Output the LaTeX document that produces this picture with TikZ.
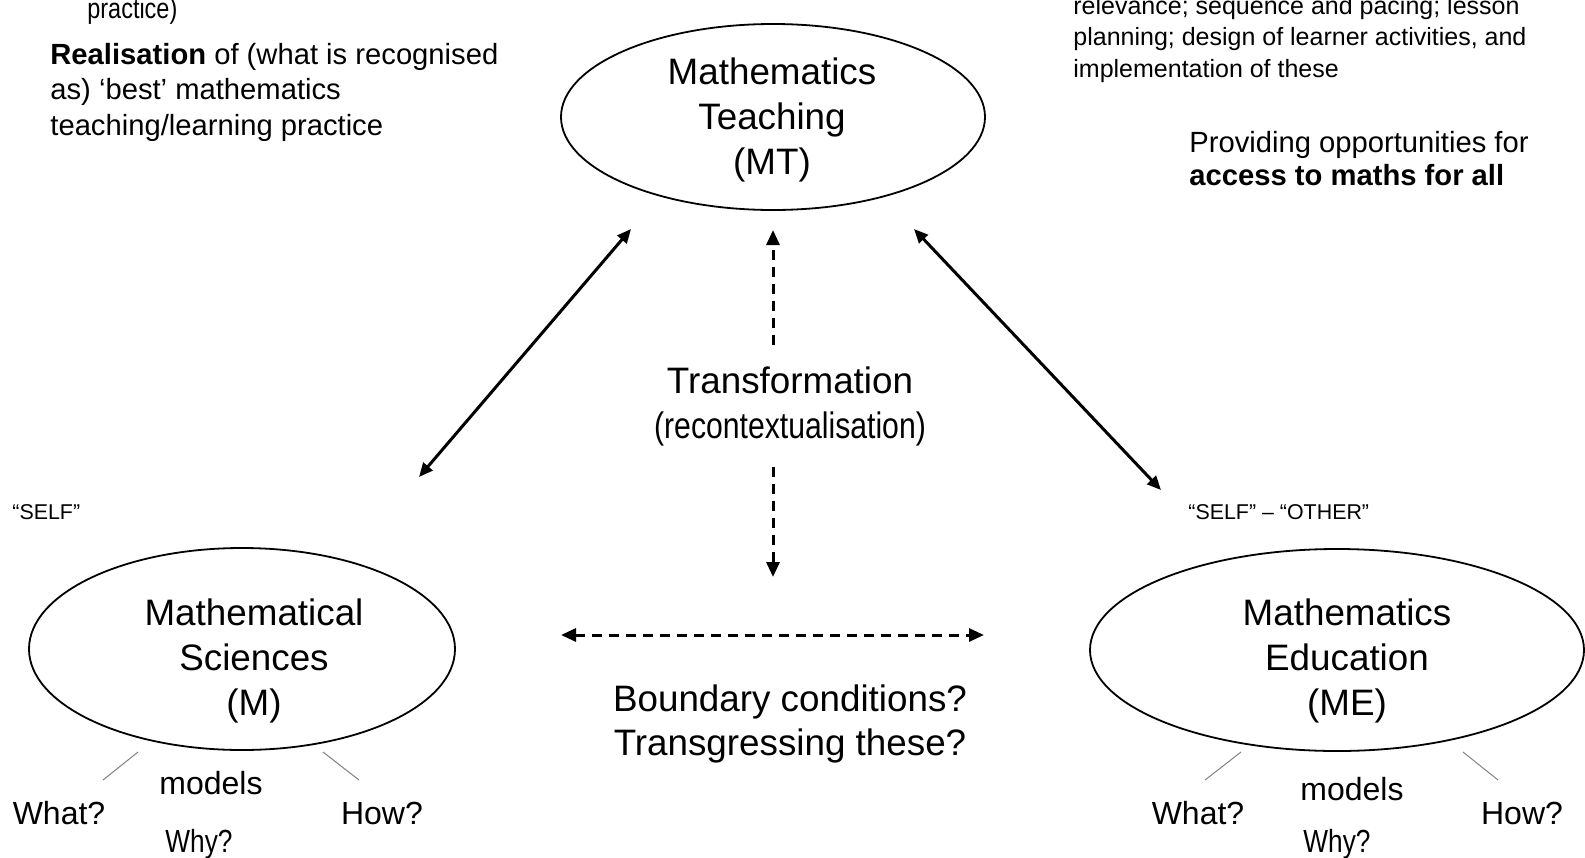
\documentclass[tikz,border=0pt]{standalone}
\usepackage{fontspec}
\setmainfont{Liberation Sans}
\newfontfamily\narrowfont[FakeStretch=0.82]{Liberation Sans}
\usetikzlibrary{arrows.meta,positioning,shapes.geometric}

\begin{document}
\begin{tikzpicture}[x=0.5pt,y=-0.5pt,
  ellip/.style={draw,ellipse,line width=0.9pt,inner sep=0pt},
  bigtxt/.style={align=center,inner sep=0pt,font=\fontsize{18.4}{22.7}\selectfont},
  smalltxt/.style={inner sep=0pt,font=\fontsize{16}{19}\selectfont},
  notetxt/.style={inner sep=0pt,align=left,anchor=base west},
  twoway/.style={line width=1.5pt,{Triangle[length=7pt,width=6pt]}-{Triangle[length=7pt,width=6pt]}},
  dashway/.style={line width=1.5pt,dash pattern=on 5pt off 3.5pt,-{Triangle[length=7.5pt,width=6.5pt]}},
  tick/.style={gray,line width=0.5pt}]
\useasboundingbox (0,0) rectangle (1585,857);
\clip (0,0) rectangle (1585,857);

% the three fields
\node[ellip,minimum width=212pt,minimum height=93pt] (mt) at (773,117) {};
\node[bigtxt] (mtlab) at (772,120) {Mathematics\\Teaching\\(MT)};
\node[ellip,minimum width=213pt,minimum height=101pt] (m) at (242,649) {};
\node[bigtxt] (mlab) at (254,661) {Mathematical\\Sciences\\(M)};
\node[ellip,minimum width=247pt,minimum height=101pt] (me) at (1337,650) {};
\node[bigtxt] (melab) at (1347,661) {Mathematics\\Education\\(ME)};

% notes in the corners (base = last line)
\node[notetxt,font=\narrowfont\fontsize{14.3}{17}\selectfont] (prac) at (87,18) {practice)};
\node[notetxt,font=\fontsize{14.6}{17.75}\selectfont] (real) at (50,135)
  {\textbf{Realisation} of (what is recognised\\as) `best' mathematics\\teaching/learning practice};
\node[notetxt,font=\fontsize{12.5}{15.75}\selectfont] (plan) at (1073,77)
  {relevance; sequence and pacing; lesson\\planning; design of learner activities, and\\implementation of these};
\node[notetxt,font=\fontsize{14.6}{16.5}\selectfont] (acc) at (1189,185)
  {Providing opportunities for\\\textbf{access to maths for all}};
\node[notetxt,font=\fontsize{10.7}{13}\selectfont] (self) at (12,519) {``SELF''};
\node[notetxt,font=\fontsize{10.7}{13}\selectfont] (other) at (1188,519) {``SELF'' -- ``OTHER''};

% centre
\node[bigtxt] (trans) at (790,380) {Transformation};
\node[bigtxt,font=\narrowfont\fontsize{18.4}{22.7}\selectfont] (recon) at (790,429) {(recontextualisation)};
\node[bigtxt,font=\fontsize{18.4}{22}\selectfont] (bound) at (790,724) {Boundary conditions?\\Transgressing these?};

% what / how / why under each ellipse
\node[smalltxt] (mmod) at (211,783) {models};
\node[smalltxt] (mwhat) at (59,813) {What?};
\node[smalltxt] (mhow) at (382,813) {How?};
\node[smalltxt,font=\narrowfont\fontsize{16}{19}\selectfont] (mwhy) at (199,844) {Why?};
\node[smalltxt] (memod) at (1352,789) {models};
\node[smalltxt] (mewhat) at (1198,813) {What?};
\node[smalltxt] (mehow) at (1522,813) {How?};
\node[smalltxt,font=\narrowfont\fontsize{16}{19}\selectfont] (mewhy) at (1337,844) {Why?};

\coordinate (mwa) at (138,752); \coordinate (mwb) at (103,780);
\coordinate (mha) at (323,752); \coordinate (mhb) at (359,780);
\coordinate (mewa) at (1241,752); \coordinate (mewb) at (1205,780);
\coordinate (meha) at (1463,752); \coordinate (mehb) at (1498,780);
\draw[tick] (mwa) -- (mwb);
\draw[tick] (mha) -- (mhb);
\draw[tick] (mewa) -- (mewb);
\draw[tick] (meha) -- (mehb);

% arrows
\coordinate (mtsw) at (631,229); \coordinate (mne) at (419,477);
\coordinate (mtse) at (914,229); \coordinate (menw) at (1161,490);
\draw[twoway] (mtsw) -- (mne);
\draw[twoway] (mtse) -- (menw);

\coordinate (upA) at (773,345); \coordinate (upB) at (773,230);
\coordinate (dnA) at (773,467); \coordinate (dnB) at (773,577);
\coordinate (lfA) at (561,635); \coordinate (rtA) at (984,635);
\draw[dashway] (upA) -- (upB);
\draw[dashway] (dnA) -- (dnB);
\draw[dashway,{Triangle[length=7.5pt,width=6.5pt]}-{Triangle[length=7.5pt,width=6.5pt]}] (lfA) -- (rtA);
\end{tikzpicture}
\end{document}
